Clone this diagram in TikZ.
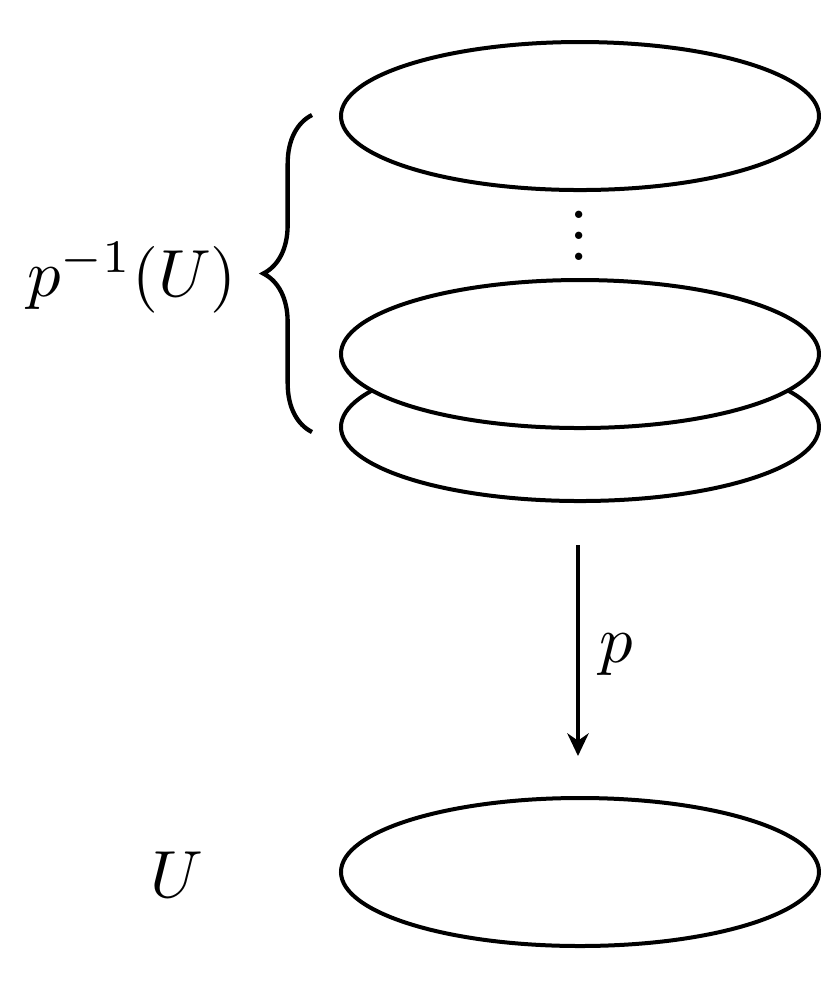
\documentclass[tikz,border=0pt]{standalone}
\usetikzlibrary{shapes.geometric,arrows.meta,decorations.pathreplacing}
\newcommand{\myvdots}{\vbox{\baselineskip3.15pt\lineskiplimit0pt\hbox{.}\hbox{.}\hbox{.}}}
\begin{document}
\begin{tikzpicture}[x=0.15pt,y=-0.15pt,
  sheet/.style={ellipse,draw,fill=white,line width=0.6pt,inner sep=0pt,
    minimum width=71.7pt,minimum height=22.2pt},
  lbl/.style={inner sep=0pt,font=\fontsize{10.4}{12}\selectfont}]
\useasboundingbox[fill=white] (0,0) rectangle (840,995);
\begin{scope}
\clip (0,0) rectangle (821,995);
\node[sheet] (e1) at (580,116) {};
\node[sheet] (e3) at (580,427) {};
\node[sheet] (e2) at (580,354) {};
\node[sheet] (eu) at (580,872) {};
\end{scope}
\node[lbl] (dots) at (579,236) {\myvdots};
\node[lbl] (pre) at (132,278) {$p^{-1}(U)$};
\node[lbl] (u) at (177,875) {$U$};
\coordinate (a1) at (578,545);
\coordinate (a2) at (578,756);
\draw[line width=0.6pt,-{Stealth[length=3.4pt,width=3.2pt]}] (a1) -- (a2);
\node[lbl] (p) at (616,655) {$p$};
\coordinate (b1) at (312,432);
\coordinate (b2) at (312,115);
\draw[line width=0.65pt,decorate,decoration={brace,amplitude=7.3pt}] (b1) -- (b2);
\end{tikzpicture}
\end{document}
